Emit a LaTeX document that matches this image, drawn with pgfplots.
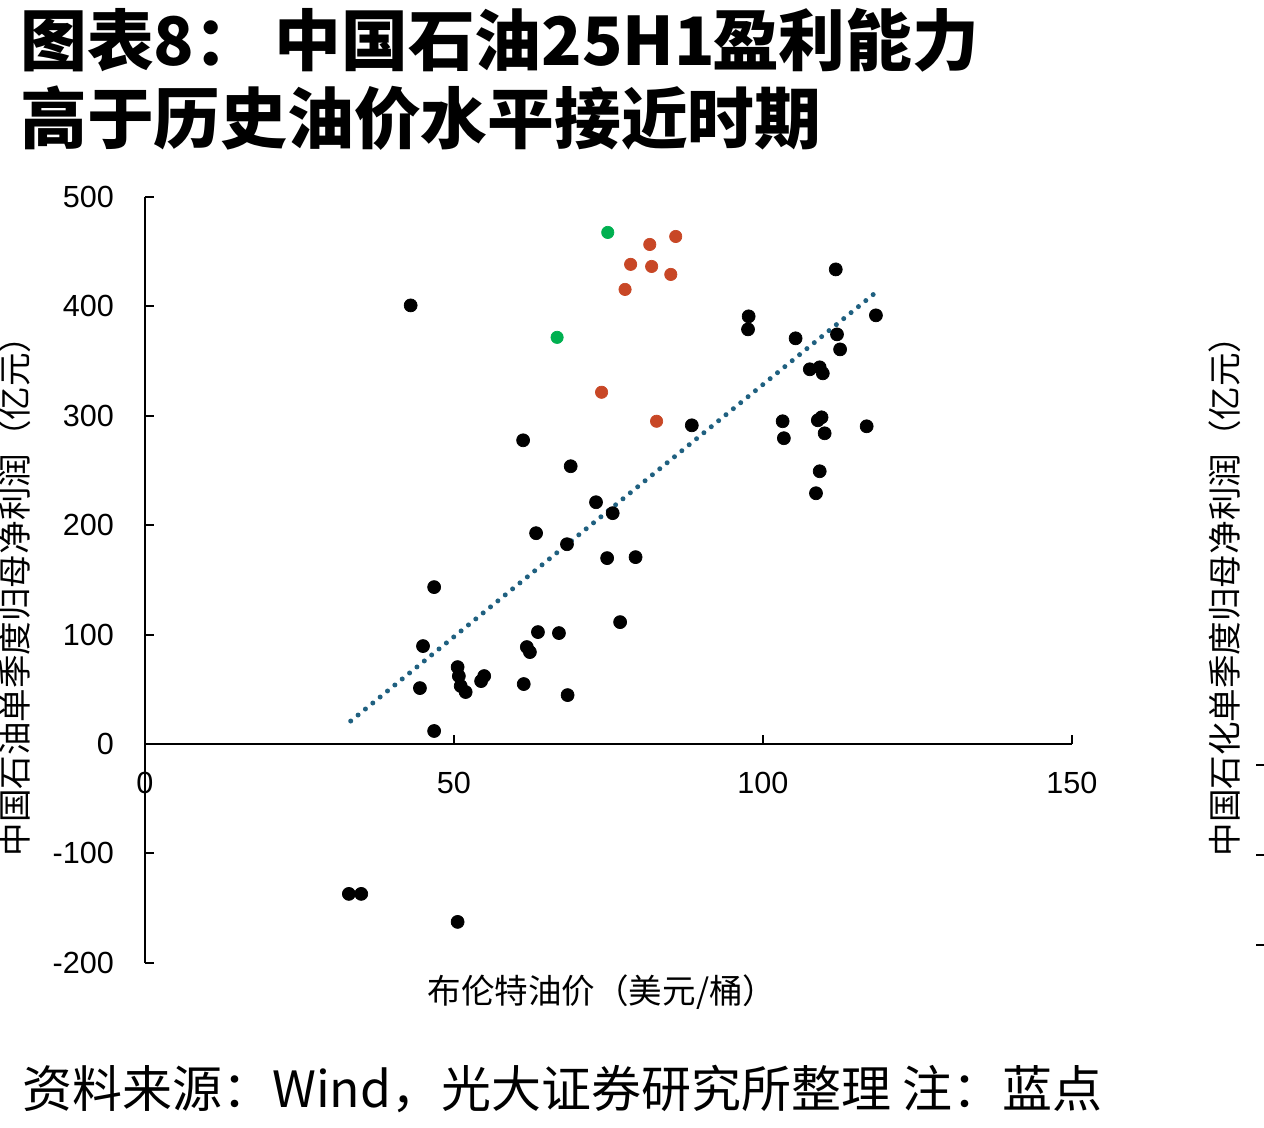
\documentclass[border=0pt]{standalone}
\usepackage{pgfplots}
\pgfplotsset{compat=1.18}
\usepackage{fontspec}
\setmainfont{Liberation Sans}
\newfontfamily\cjk{Noto Sans CJK SC}
\definecolor{ptblack}{RGB}{0,0,0}
\definecolor{ptred}{RGB}{200,71,38}
\definecolor{ptgreen}{RGB}{0,176,80}
\definecolor{trend}{RGB}{31,96,128}
\begin{document}
\begin{tikzpicture}
\begin{scope}[x=0.02cm,y=-0.02cm]
\path[use as bounding box] (0,0) rectangle (1264,1128);
\node[anchor=west,inner sep=0pt,font=\cjk\bfseries\fontsize{38}{40}\selectfont] at (20,40) {图表8：\hspace{0.2em}中国石油25H1\hspace{-0.05em}盈利能力};
\node[anchor=west,inner sep=0pt,font=\cjk\bfseries\fontsize{38}{40}\selectfont] at (20,118) {高于历史油价水平接近时期};
\node[anchor=west,inner sep=0pt,font=\cjk\fontsize{28.45}{30}\selectfont] at (22,1089) {资料来源：Wind，光大证券研究所整理 注：蓝点};
\node[inner sep=0pt,font=\cjk\fontsize{19.1}{21}\selectfont] at (602,992) {布伦特油价（美元/桶）};
\node[inner sep=0pt,rotate=90,font=\cjk\fontsize{19.1}{21}\selectfont] at (15,588) {中国石油单季度归母净利润（亿元）};
\node[inner sep=0pt,rotate=90,font=\cjk\fontsize{19.1}{21}\selectfont] at (1225,588) {中国石化单季度归母净利润（亿元）};
\foreach \yy in {765,855,945} \draw[line width=0.04cm] (1256,\yy) -- (1266,\yy);
\end{scope}
\begin{axis}[
  at={(2.9cm,-19.26cm)}, anchor=south west,
  scale only axis, width=18.54cm, height=15.32cm,
  xmin=0, xmax=150, ymin=-200, ymax=500,
  axis x line=middle, axis y line=left,
  axis line style={-, line width=0.04cm},
  hide obscured x ticks=false,
  xtick={0,50,100,150}, ytick={-200,-100,0,100,200,300,400,500},
  tick align=inside, major tick length=0.18cm,
  tick style={line width=0.04cm, black},
  /pgf/number format/assume math mode=true,
  tick label style={font=\fontsize{17.4}{19}\selectfont},
  xticklabel style={anchor=north, yshift=-0.44cm},
  yticklabel style={anchor=east, xshift=-0.5cm},
  clip=false,
]
\addplot[only marks, mark=*, mark size=3.7pt, ptblack, mark options={draw=ptblack, fill=ptblack}] coordinates {
(111.8,433.8) (97.7,390.9) (97.6,379.0) (118.3,391.8) (105.3,370.8) (112.0,374.4)
(112.5,360.7) (107.6,342.5) (109.2,344.3) (109.7,338.8) (103.2,295.0) (103.4,279.5)
(108.9,295.9) (109.5,298.6) (110.0,284.0) (116.8,290.4) (109.2,249.3) (108.6,229.2)
(88.5,291.3) (43.0,400.9) (61.2,277.6) (68.9,253.9) (73.0,221.0) (75.7,211.0)
(63.3,192.7) (68.3,182.6) (74.8,169.9) (79.4,170.8) (46.8,143.4) (76.9,111.4)
(63.6,102.3) (67.0,101.4) (45.0,89.5) (61.8,88.6) (62.3,84.0) (50.6,70.3)
(50.8,62.1) (51.1,53.0) (51.9,47.5) (54.4,57.5) (54.9,62.1) (44.5,51.1)
(61.3,54.8) (68.4,44.7) (46.8,11.9) (33.0,-137) (35.0,-137) (50.6,-162.6)
};
\addplot[only marks, mark=*, mark size=3.5pt, mark options={draw=ptred, fill=ptred}] coordinates {
(81.7,456.6) (85.9,463.9) (78.6,438.4) (82.0,436.5) (85.1,429.2) (77.7,415.5) (73.9,321.5) (82.8,295.0)
};
\addplot[only marks, mark=*, mark size=3.5pt, mark options={draw=ptgreen, fill=ptgreen}] coordinates {
(74.9,467.6) (66.7,371.7)
};
\addplot[trend, line width=0.1cm, line cap=round, dash pattern=on 0pt off 0.19cm, no marks] coordinates {
(33.3,21) (117.9,411)
};
\end{axis}
\end{tikzpicture}
\end{document}
